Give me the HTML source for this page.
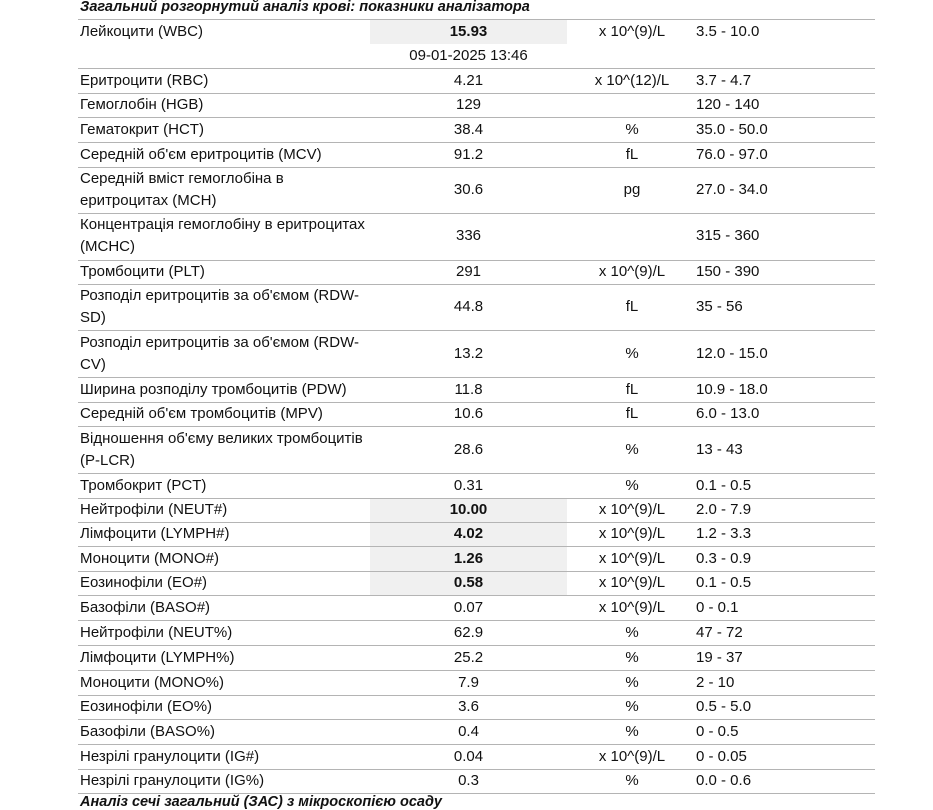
<!DOCTYPE html>
<html><head><meta charset="utf-8"><style>
body{margin:0;width:933px;height:802px;overflow:hidden;background:#fff;font-family:"Liberation Sans",sans-serif;font-size:15px;color:#111;position:relative}
.l{position:absolute;left:78px;width:797px;height:1px;background:#b4b4b4}
.t{position:absolute;white-space:nowrap;line-height:22px}
.n{left:80px}
.v{left:370px;width:197px;text-align:center}
.u{left:567px;width:130px;text-align:center}
.r{left:696px}
.g{position:absolute;left:370px;width:197px;background:#f0f0f0}
.h{position:absolute;left:80px;font-weight:bold;font-style:italic;font-size:14.5px;white-space:nowrap}
</style></head><body>
<div class="h" style="top:-1px">Загальний розгорнутий аналіз крові: показники аналізатора</div>
<div class="h" style="top:794px">Аналіз сечі загальний (ЗАС) з мікроскопією осаду</div>
<div class="g" style="top:20px;height:24px"></div>
<div class="g" style="top:499px;height:23px"></div>
<div class="g" style="top:523px;height:23px"></div>
<div class="g" style="top:547px;height:24px"></div>
<div class="g" style="top:572px;height:23px"></div>
<div id="c"></div>
<script>
var lines=[19,68,93,117,142,167,213,260,284,330,377,402,426,473,498,522,546,571,595,620,645,670,695,719,744,769,793];
var h='';lines.forEach(function(y){h+='<div class="l" style="top:'+y+'px"></div>';});
var rows=[
[32,'Лейкоцити (WBC)','15.93','x 10^(9)/L','3.5 - 10.0',1],
[56,'','09-01-2025 13:46','',''],
[81,'Еритроцити (RBC)','4.21','x 10^(12)/L','3.7 - 4.7'],
[105,'Гемоглобін (HGB)','129','','120 - 140'],
[130,'Гематокрит (HCT)','38.4','%','35.0 - 50.0'],
[155,'Середній об\'єм еритроцитів (MCV)','91.2','fL','76.0 - 97.0'],
[190,'Середній вміст гемоглобіна в<br>еритроцитах (MCH)','30.6','pg','27.0 - 34.0'],
[236,'Концентрація гемоглобіну в еритроцитах<br>(MCHC)','336','','315 - 360'],
[272,'Тромбоцити (PLT)','291','x 10^(9)/L','150 - 390'],
[307,'Розподіл еритроцитів за об\'ємом (RDW-<br>SD)','44.8','fL','35 - 56'],
[354,'Розподіл еритроцитів за об\'ємом (RDW-<br>CV)','13.2','%','12.0 - 15.0'],
[390,'Ширина розподілу тромбоцитів (PDW)','11.8','fL','10.9 - 18.0'],
[414,'Середній об\'єм тромбоцитів (MPV)','10.6','fL','6.0 - 13.0'],
[450,'Відношення об\'єму великих тромбоцитів<br>(P-LCR)','28.6','%','13 - 43'],
[486,'Тромбокрит (PCT)','0.31','%','0.1 - 0.5'],
[510,'Нейтрофіли (NEUT#)','10.00','x 10^(9)/L','2.0 - 7.9',1],
[534,'Лімфоцити (LYMPH#)','4.02','x 10^(9)/L','1.2 - 3.3',1],
[559,'Моноцити (MONO#)','1.26','x 10^(9)/L','0.3 - 0.9',1],
[583,'Еозинофіли (EO#)','0.58','x 10^(9)/L','0.1 - 0.5',1],
[608,'Базофіли (BASO#)','0.07','x 10^(9)/L','0 - 0.1'],
[633,'Нейтрофіли (NEUT%)','62.9','%','47 - 72'],
[658,'Лімфоцити (LYMPH%)','25.2','%','19 - 37'],
[683,'Моноцити (MONO%)','7.9','%','2 - 10'],
[707,'Еозинофіли (EO%)','3.6','%','0.5 - 5.0'],
[732,'Базофіли (BASO%)','0.4','%','0 - 0.5'],
[757,'Незрілі гранулоцити (IG#)','0.04','x 10^(9)/L','0 - 0.05'],
[781,'Незрілі гранулоцити (IG%)','0.3','%','0.0 - 0.6']];
rows.forEach(function(r){
 var two=r[1].indexOf('<br>')>=0;
 var nt=two?r[0]-22:r[0]-11;
 h+='<div class="t n" style="top:'+nt+'px">'+r[1]+'</div>';
 h+='<div class="t v" style="top:'+(r[0]-11)+'px;'+(r[5]?'font-weight:bold':'')+'">'+r[2]+'</div>';
 h+='<div class="t u" style="top:'+(r[0]-11)+'px">'+r[3]+'</div>';
 h+='<div class="t r" style="top:'+(r[0]-11)+'px">'+r[4]+'</div>';
});
document.getElementById('c').innerHTML=h;
</script>
</body></html>
